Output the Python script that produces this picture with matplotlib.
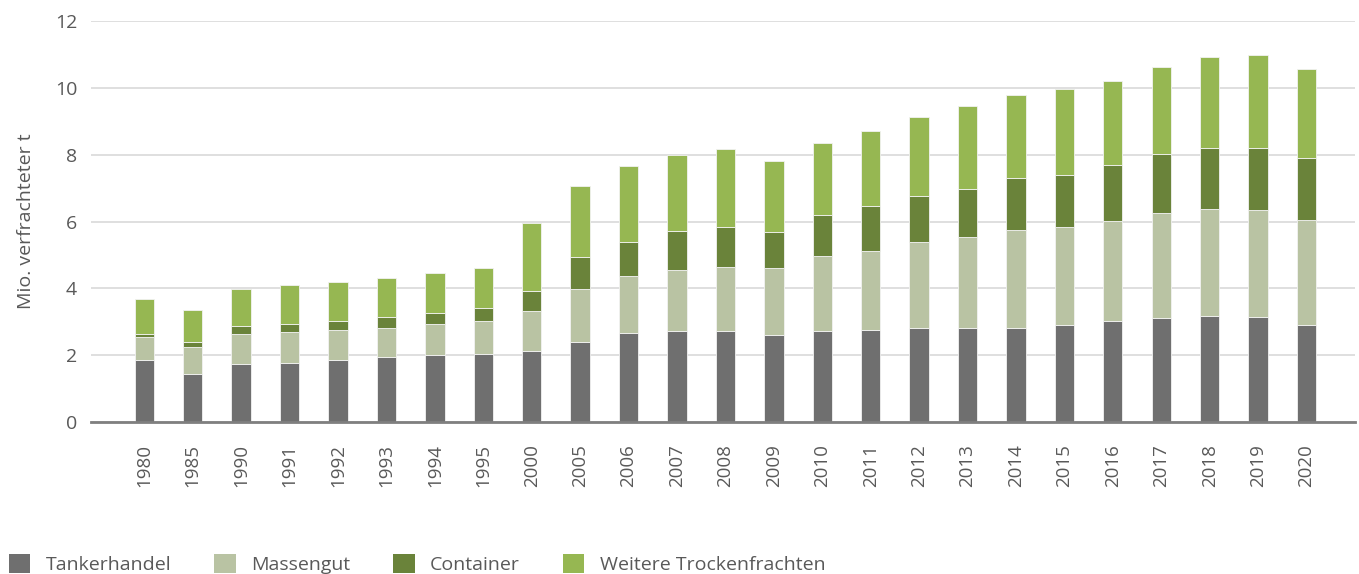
import numpy as np
import matplotlib
matplotlib.use("Agg")
import matplotlib.pyplot as plt
from matplotlib.patches import Patch


years = ["1980", "1985", "1990", "1991", "1992", "1993", "1994", "1995", "2000",
         "2005", "2006", "2007", "2008", "2009", "2010", "2011", "2012", "2013",
         "2014", "2015", "2016", "2017", "2018", "2019", "2020"]

tanker = [1.85, 1.44, 1.74, 1.77, 1.85, 1.93, 1.99, 2.03, 2.13, 2.39, 2.66, 2.71,
          2.71, 2.61, 2.71, 2.75, 2.80, 2.80, 2.80, 2.90, 3.02, 3.11, 3.16, 3.13, 2.89]
massengut = [0.69, 0.80, 0.88, 0.91, 0.89, 0.89, 0.93, 1.00, 1.19, 1.58, 1.70, 1.83,
             1.92, 2.01, 2.25, 2.37, 2.58, 2.73, 2.96, 2.93, 3.01, 3.15, 3.21, 3.21, 3.17]
container = [0.10, 0.15, 0.25, 0.25, 0.29, 0.32, 0.34, 0.38, 0.60, 0.97, 1.03, 1.18,
             1.21, 1.07, 1.23, 1.34, 1.38, 1.45, 1.54, 1.56, 1.66, 1.75, 1.83, 1.86, 1.84]
weitere = [1.03, 0.97, 1.11, 1.16, 1.16, 1.17, 1.20, 1.21, 2.03, 2.12, 2.26, 2.26,
           2.34, 2.11, 2.17, 2.26, 2.38, 2.48, 2.48, 2.57, 2.53, 2.63, 2.74, 2.80, 2.68]

series = [("Tankerhandel", tanker, "#6f6f6f"),
          ("Massengut", massengut, "#b9c3a3"),
          ("Container", container, "#6a833a"),
          ("Weitere Trockenfrachten", weitere, "#96b752")]

plt.rcParams["font.family"] = ["Open Sans", "DejaVu Sans"]
TXT = "#595959"

fig = plt.figure(figsize=(13.59, 5.74), dpi=100)
ax = fig.add_axes([0.067, 0.265, 0.930, 0.698])

x = np.arange(len(years))
bottom = np.zeros(len(years))
for name, vals, col in series:
    ax.bar(x, vals, 0.4, bottom=bottom, color=col, edgecolor="#f2f2f2",
           linewidth=0.6, label=name, zorder=3)
    bottom += np.array(vals)

ax.set_ylim(0, 12)
ax.set_yticks(range(0, 13, 2))
ax.set_xlim(-1.1, 25.0)
ax.set_xticks(x)
ax.set_xticklabels(years, rotation=90, fontsize=13.5, color=TXT)
ax.tick_params(axis="y", labelsize=14, colors=TXT, length=0, pad=10)
ax.tick_params(axis="x", length=0, pad=16)
ax.grid(axis="y", color="#d9d9d9", linewidth=1.2, zorder=0)
for s in ["top", "right", "left"]:
    ax.spines[s].set_visible(False)
ax.spines["bottom"].set_color("#7f7f7f")
ax.spines["bottom"].set_linewidth(2)
ax.spines["bottom"].set_zorder(4)
ax.set_ylabel("Mio. verfrachteter t", fontsize=14, color=TXT, labelpad=14)

handles = [Patch(facecolor=c, label=n) for n, _, c in series]
fig.legend(handles=handles, loc="lower left", bbox_to_anchor=(-0.002, -0.02),
           ncol=4, frameon=False, fontsize=14, labelcolor=TXT,
           handlelength=1.1, handleheight=1.1, handletextpad=0.8,
           columnspacing=2.2, borderaxespad=0.2)

fig.savefig("out.png", dpi=100)
